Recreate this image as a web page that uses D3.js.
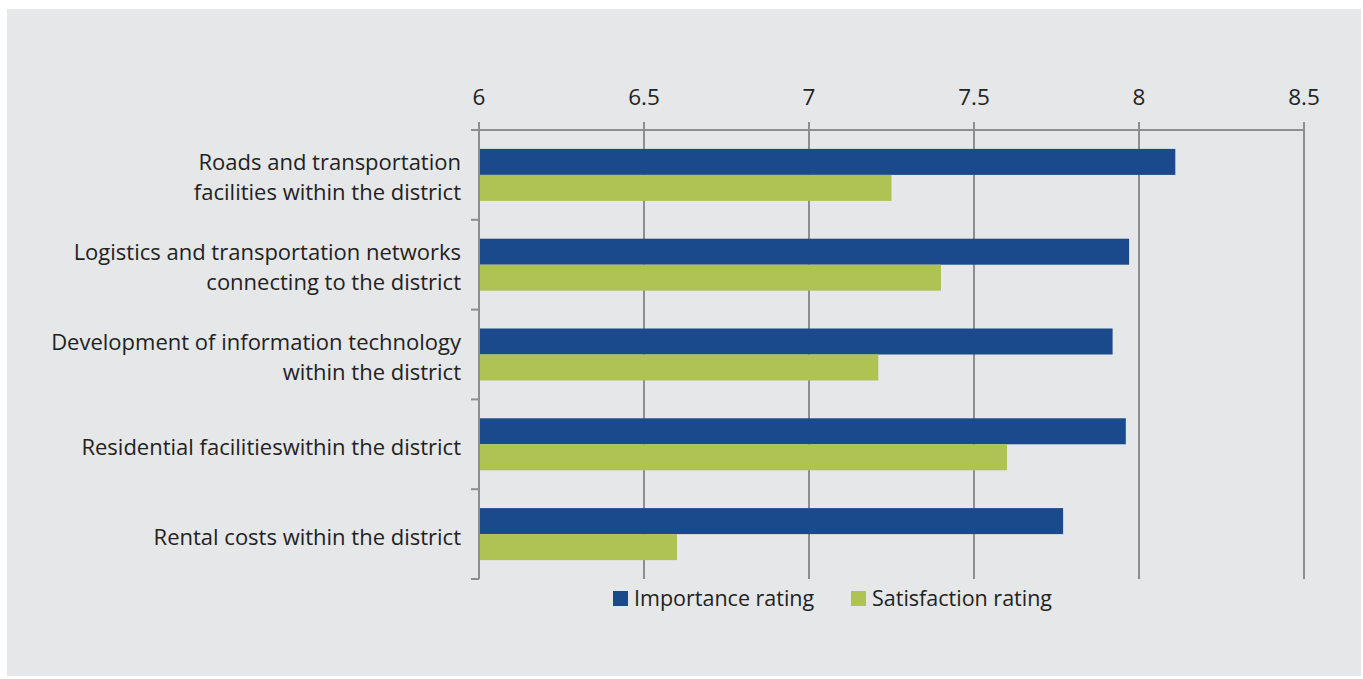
<!DOCTYPE html>
<html>
<head>
<meta charset="utf-8">
<script src="https://cdn.jsdelivr.net/npm/d3@7"></script>
<style>
  html, body { margin: 0; padding: 0; background: #ffffff; }
  svg { display: block; }
  text { font-family: "Open Sans", "Noto Sans", sans-serif; font-weight: 400; fill: #222221; }
</style>
</head>
<body>
<svg id="chart" width="1363" height="679"></svg>
<script>
// Category labels (each entry is a list of lines)
const categories = [
  ["Roads and transportation", "facilities within the district"],
  ["Logistics and transportation networks", "connecting to the district"],
  ["Development of information technology", "within the district"],
  ["Residential facilitieswithin the district"],
  ["Rental costs within the district"]
];
const seriesNames = ["Importance rating", "Satisfaction rating"];
const importance = [8.11, 7.97, 7.92, 7.96, 7.77];
const satisfaction = [7.25, 7.40, 7.21, 7.60, 6.60];
const tickValues = [6, 6.5, 7, 7.5, 8, 8.5];
const colors = ["#1b4a8c", "#afc355"];

const svg = d3.select("#chart");
const W = 1363, H = 679;

// panel background
svg.append("rect").attr("x", 7).attr("y", 9).attr("width", W - 9).attr("height", H - 12)
  .attr("fill", "#e6e7e9");

const plotL = 479, plotR = 1304, plotT = 130, plotB = 579;
const x = d3.scaleLinear().domain([6, 8.5]).range([plotL, plotR]);
const y = d3.scaleBand().domain(d3.range(categories.length)).range([plotT, plotB]);
const sub = d3.scaleBand().domain([0, 1]).range([0, y.bandwidth()]).paddingInner(0).paddingOuter(0.727);

const gridColor = "#8d8e90";

// vertical gridlines with ticks above the top axis
svg.append("g").selectAll("line").data(tickValues).join("line")
  .attr("x1", d => x(d)).attr("x2", d => x(d))
  .attr("y1", plotT - 8).attr("y2", plotB)
  .attr("stroke", gridColor).attr("stroke-width", 2);

// top axis line
svg.append("line").attr("x1", plotL - 8).attr("x2", plotR).attr("y1", plotT).attr("y2", plotT)
  .attr("stroke", gridColor).attr("stroke-width", 2);

// category tick marks on the left axis
const catTicks = d3.range(1, categories.length).map(i => y(i)).concat([plotB]);
svg.append("g").selectAll("line").data(catTicks).join("line")
  .attr("x1", plotL - 8).attr("x2", plotL)
  .attr("y1", d => d).attr("y2", d => d)
  .attr("stroke", gridColor).attr("stroke-width", 2);

// tick labels
svg.append("g").selectAll("text").data(tickValues).join("text")
  .attr("x", d => x(d)).attr("y", 105)
  .attr("text-anchor", "middle")
  .attr("font-size", 22.5)
  .text(d => d3.format("~g")(d));

// bars
const series = [importance, satisfaction];
series.forEach((vals, s) => {
  svg.append("g").selectAll("rect").data(vals).join("rect")
    .attr("x", x(6))
    .attr("y", (d, i) => y(i) + sub(s))
    .attr("width", d => x(d) - x(6))
    .attr("height", sub.bandwidth())
    .attr("fill", colors[s]);
});

// left axis line
svg.append("line").attr("x1", plotL).attr("x2", plotL).attr("y1", plotT - 8).attr("y2", plotB)
  .attr("stroke", gridColor).attr("stroke-width", 2);

// category labels
const lab = svg.append("g");
categories.forEach((lines, i) => {
  const cy = y(i) + y.bandwidth() / 2;
  const t = lab.append("text").attr("text-anchor", "end").attr("font-size", 22);
  const offs = lines.length === 1 ? [10.5] : [-4.5, 25];
  lines.forEach((ln, j) => {
    t.append("tspan").attr("x", 461).attr("y", cy + offs[j]).text(ln);
  });
});

// legend
const legendX = [613, 851];
seriesNames.forEach((name, s) => {
  svg.append("rect").attr("x", legendX[s]).attr("y", 591).attr("width", 15).attr("height", 15)
    .attr("fill", colors[s]);
  svg.append("text").attr("x", legendX[s] + 21).attr("y", 606).attr("font-size", 21.5).text(name);
});
</script>
</body>
</html>
